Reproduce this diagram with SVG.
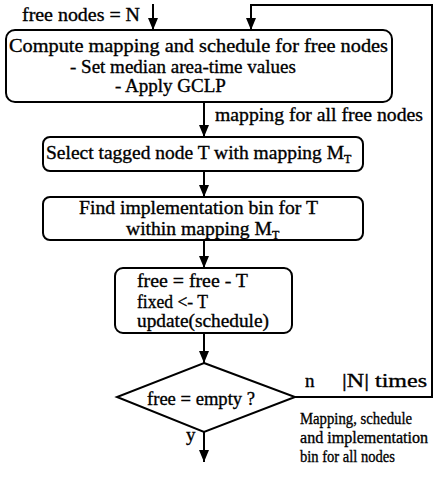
<svg xmlns="http://www.w3.org/2000/svg" width="437" height="479" viewBox="0 0 437 479">
<defs>
<marker id="ah" markerUnits="userSpaceOnUse" markerWidth="12" markerHeight="12" refX="12" refY="5" orient="auto">
<path d="M0,0 L12,5 L0,10 z" fill="#000"/>
</marker>
<style>
text{font-family:"Liberation Serif","Times New Roman",serif;font-size:19px;fill:#000;stroke:#000;stroke-width:0.35}
.b{fill:#fff;stroke:#000;stroke-width:2}
.c{fill:none;stroke:#000;stroke-width:2}
.s{font-size:12px}
.m{font-size:17px}
</style>
</defs>
<rect width="437" height="479" fill="#fff"/>
<g id="connectors">
<line class="c" x1="153" y1="4" x2="153" y2="30" marker-end="url(#ah)"/>
<polyline class="c" points="295,397 432,397 432,5 251,5 251,30" marker-end="url(#ah)"/>
<line class="c" x1="204" y1="102" x2="204" y2="137" marker-end="url(#ah)"/>
<line class="c" x1="204" y1="171" x2="204" y2="197" marker-end="url(#ah)"/>
<line class="c" x1="204" y1="240" x2="204" y2="268" marker-end="url(#ah)"/>
<line class="c" x1="204" y1="333" x2="204" y2="363" marker-end="url(#ah)"/>
<line class="c" x1="204" y1="432" x2="204" y2="462" marker-end="url(#ah)"/>
<text x="22" y="21" textLength="118" lengthAdjust="spacingAndGlyphs">free nodes = N</text>
<text x="215" y="121" textLength="208" lengthAdjust="spacingAndGlyphs">mapping for all free nodes</text>
<text x="305" y="387">n</text>
<text x="342" y="387" textLength="85" lengthAdjust="spacingAndGlyphs">|N| times</text>
<text x="186" y="441">y</text>
<text class="m" x="300" y="424" textLength="112" lengthAdjust="spacingAndGlyphs">Mapping, schedule</text>
<text class="m" x="300" y="443" textLength="128" lengthAdjust="spacingAndGlyphs">and implementation</text>
<text class="m" x="300" y="462" textLength="95" lengthAdjust="spacingAndGlyphs">bin for all nodes</text>
</g>
<g id="compute">
<rect class="b" x="6" y="30" width="386" height="72" rx="9"/>
<text x="9" y="52" textLength="379" lengthAdjust="spacingAndGlyphs">Compute mapping and schedule for free nodes</text>
<text x="70" y="73" font-size="18">- Set median area-time values</text>
<text x="115" y="92" font-size="18">- Apply GCLP</text>
</g>
<g id="select">
<rect class="b" x="43" y="137" width="320" height="34" rx="7"/>
<text x="46" y="159"><tspan textLength="298" lengthAdjust="spacingAndGlyphs">Select tagged node T with mapping M</tspan><tspan class="s" dy="4">T</tspan></text>
</g>
<g id="find">
<rect class="b" x="43" y="197" width="320" height="43" rx="7"/>
<text x="79" y="214" textLength="239" lengthAdjust="spacingAndGlyphs">Find implementation bin for T</text>
<text x="126" y="235"><tspan textLength="146" lengthAdjust="spacingAndGlyphs">within mapping M</tspan><tspan class="s" dy="4">T</tspan></text>
</g>
<g id="update">
<rect class="b" x="115" y="268" width="177" height="65" rx="8"/>
<text x="137" y="287" textLength="111" lengthAdjust="spacingAndGlyphs">free = free - T</text>
<text x="137" y="308" textLength="71" lengthAdjust="spacingAndGlyphs">fixed &lt;- T</text>
<text x="137" y="327" textLength="132" lengthAdjust="spacingAndGlyphs">update(schedule)</text>
</g>
<g id="decision">
<polygon class="b" points="204,363 295,397 204,432 117,397"/>
<text x="147" y="405" textLength="108" lengthAdjust="spacingAndGlyphs">free = empty ?</text>
</g>
</svg>
